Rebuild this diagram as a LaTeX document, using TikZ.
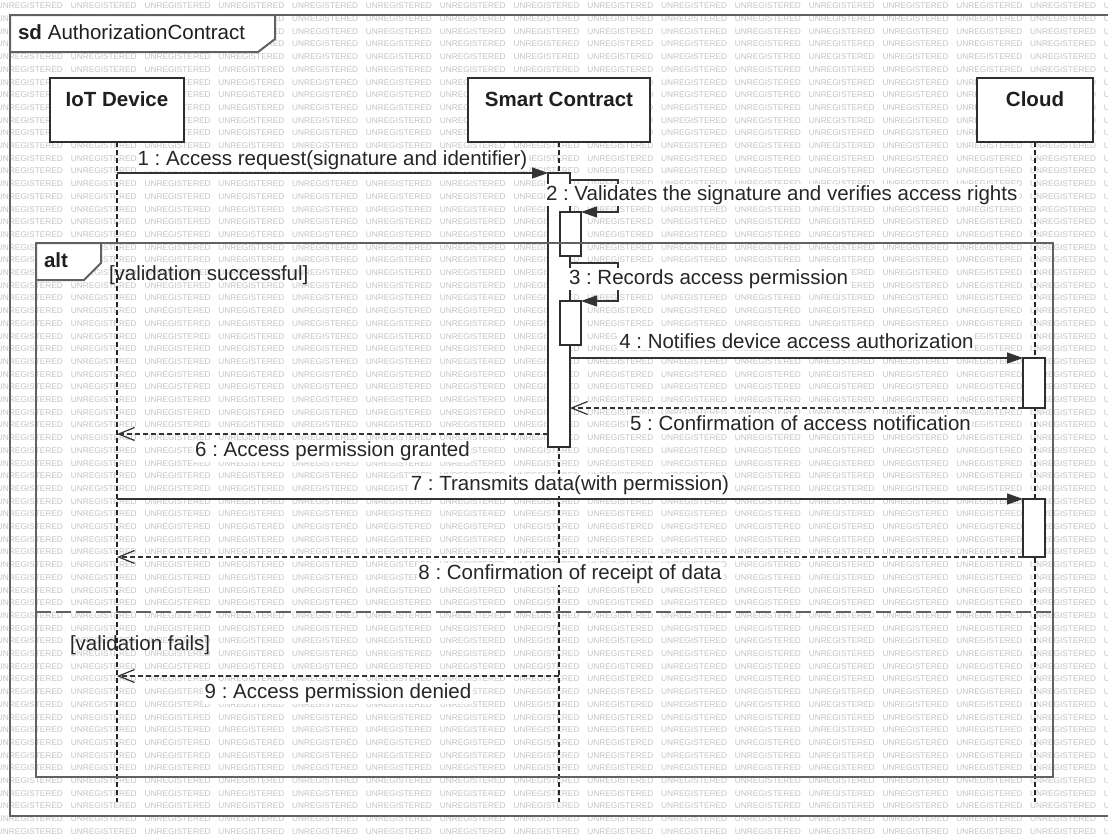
\documentclass[tikz,border=0pt]{standalone}
\usepackage{fontspec}
\setmainfont{Liberation Sans}
\usetikzlibrary{arrows.meta,calc}
\frenchspacing

% text sizes
\newcommand\msgfont{\fontsize{20.5}{24}\selectfont}
\newcommand\wmfont{\fontsize{8.3}{9}\selectfont}
% one background stamp and a full row of them
\newcommand\wmword{\makebox[73.8pt][l]{UNREGISTERED}}
\newcommand\wmfour{\wmword\wmword\wmword\wmword}
\newcommand\wmrow{\wmfour\wmfour\wmfour\wmfour}

\begin{document}
\begin{tikzpicture}[x=1pt,y=-1pt,
  every node/.style={inner sep=0pt, outer sep=0pt},
  wm/.style={anchor=west, font=\wmfont, text=black!23},
  frameline/.style={draw=black!62, line width=2pt},
  head/.style={draw=black!82, line width=1.6pt, fill=white, minimum height=64pt},
  headtxt/.style={anchor=base, font=\msgfont\bfseries, text=black!88},
  lifeline/.style={draw=black!85, line width=1.2pt, dash pattern=on 5pt off 3pt},
  actbox/.style={draw=black!82, line width=1.5pt, fill=white, anchor=north west},
  call/.style={draw=black!80, line width=1.3pt, -{Triangle[length=16pt,width=11pt]}},
  reply/.style={draw=black!80, line width=1.2pt, dash pattern=on 5pt off 3pt,
    -{Straight Barb[length=16pt,width=13pt,line width=1.2pt]}},
  lbl/.style={font=\msgfont, text=black!85, fill=white, inner sep=1.5pt},
  guard/.style={font=\msgfont, text=black!85, anchor=base west},
]
\useasboundingbox (0,0) rectangle (1108,833);
\clip (0,0) rectangle (1108,833);
\fill[white] (0,0) rectangle (1108,833);

% background stamps
\foreach \k in {0,...,65}
  \node[wm] (wm\k) at (-3,6+12.7*\k) {\wmrow};

% sequence diagram frame and its tab
\draw[frameline] (1125,816) -- (10,816) -- (10,15) -- (1125,15);
\filldraw[frameline, fill=white] (10,15) -- (275,15) -- (275,39) -- (258,52) -- (10,52) -- cycle;
\node[anchor=base west, font=\msgfont, text=black!88] (sdname) at (18,39)
  {\textbf{sd}\hspace{6pt}AuthorizationContract};

% lifeline heads
\node[head, minimum width=134pt] (iot) at (117,110) {};
\node[head, minimum width=182pt] (sc) at (559,110) {};
\node[head, minimum width=116pt] (cloud) at (1035,110) {};
\node[headtxt] (iott) at (117,106) {IoT Device};
\node[headtxt] (sct) at (559,106) {Smart Contract};
\node[headtxt] (cloudt) at (1035,106) {Cloud};

% message levels and lifeline ends
\coordinate (yend) at (0,802);
\coordinate (y6) at (0,434);
\coordinate (y9) at (0,676);

\draw[lifeline] (iot.south) -- (iot.south |- yend);
\draw[lifeline] (sc.south) -- (sc.south |- yend);
\draw[lifeline] (cloud.south) -- (cloud.south |- yend);

% activations
\node[actbox, minimum width=22pt, minimum height=274pt] (sc1) at (548,173) {};
\node[actbox, minimum width=21pt, minimum height=44pt] (sn2) at (560,212) {};
\node[actbox, minimum width=21pt, minimum height=44pt] (sn3) at (560,301) {};
\node[actbox, minimum width=22pt, minimum height=50pt] (ca1) at (1023,358) {};
\node[actbox, minimum width=22pt, minimum height=58pt] (ca2) at (1023,499) {};

% combined fragment
\draw[frameline] (36,243) rectangle (1053,777);
\draw[draw=black!62, line width=2pt, dash pattern=on 15pt off 5pt] (36,612) -- (1053,612);
\filldraw[frameline, fill=white] (36,243) -- (101,243) -- (101,263) -- (84,280) -- (36,280) -- cycle;
\node[anchor=base west, font=\msgfont\bfseries, text=black!88] (altname) at (44,267) {alt};
\node[guard] (g1) at (109,280) {[validation successful]};
\node[guard] (g2) at (70,650) {[validation fails]};

% messages
\draw[call] (iot.south |- sc1.north) -- (sc1.north west)
  node[lbl, midway, anchor=base, yshift=8pt] (l1) {1 : Access request(signature and identifier)};

\draw[call] ($(sc1.north east)+(0,7)$) -- ++(48,0) |- (sn2.north east);
\node[lbl, anchor=base west] (l2) at (544.5,200) {2 : Validates the signature and verifies access rights};

\draw[call] ($(sc1.east |- sn2.south)+(0,7)$) -- ++(48,0) |- (sn3.north east);
\node[lbl, anchor=base west] (l3) at (567.5,284) {3 : Records access permission};

\draw[call] (sc1.east |- ca1.north) -- (ca1.north west)
  node[lbl, midway, anchor=base, yshift=10pt] (l4) {4 : Notifies device access authorization};

\draw[reply] (ca1.south west) -- (sc1.east |- ca1.south)
  node[lbl, midway, anchor=base, yshift=-22pt, xshift=4pt] (l5) {5 : Confirmation of access notification};

\draw[reply] (sc1.west |- y6) -- (iot.south |- y6)
  node[lbl, midway, anchor=base, yshift=-22pt] (l6) {6 : Access permission granted};

\draw[call] (iot.south |- ca2.north) -- (ca2.north west)
  node[lbl, midway, anchor=base, yshift=9pt] (l7) {7 : Transmits data(with permission)};

\draw[reply] (ca2.south west) -- (iot.south |- ca2.south)
  node[lbl, midway, anchor=base, yshift=-22pt] (l8) {8 : Confirmation of receipt of data};

\draw[reply] (sc.south |- y9) -- (iot.south |- y9)
  node[lbl, midway, anchor=base, yshift=-22pt] (l9) {9 : Access permission denied};
\end{tikzpicture}
\end{document}
